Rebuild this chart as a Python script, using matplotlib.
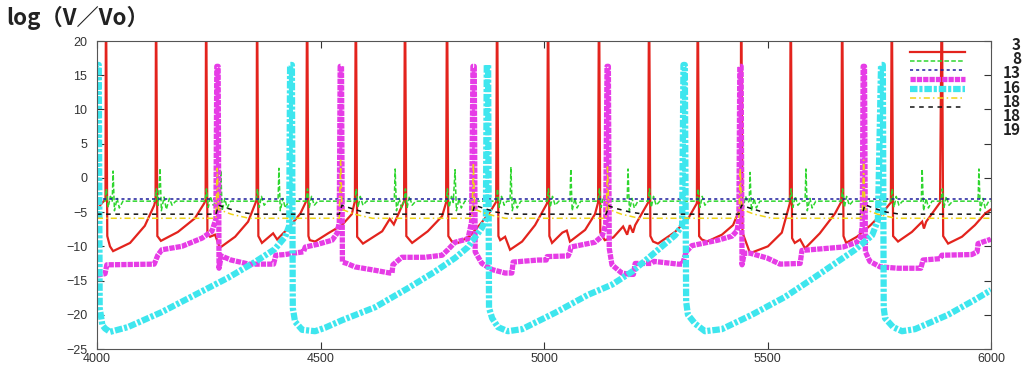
import numpy as np
import matplotlib
matplotlib.use("Agg")
import matplotlib.pyplot as plt
from matplotlib.lines import Line2D

plt.rcParams["font.family"] = ["Liberation Sans", "DejaVu Sans"]

# ---------------- data ----------------
# series "3" (red, solid) - spikes run off the top of the axes
t_3 = [4000, 4012, 4019, 4020, 4023, 4029, 4036, 4074, 4107, 4128,
       4131, 4132, 4135, 4143, 4181, 4219, 4240,
       4243, 4244, 4247, 4253, 4264, 4275, 4309, 4338, 4355,
       4357, 4358, 4361, 4369, 4394, 4403, 4430, 4455, 4468,
       4470, 4473, 4476, 4488, 4517, 4548, 4570, 4577,
       4579, 4582, 4595, 4638, 4655, 4664, 4687,
       4689, 4692, 4705, 4740, 4772, 4781,
       4783, 4786, 4794, 4808, 4834, 4857, 4879, 4893,
       4895, 4898, 4902, 4913, 4924, 4951, 4980, 5007,
       5009, 5012, 5018, 5041, 5051, 5058, 5092, 5114, 5121,
       5123, 5126, 5136, 5155, 5177, 5186, 5192, 5199, 5204, 5233,
       5235, 5238, 5244, 5255, 5293, 5322, 5342,
       5344, 5347, 5353, 5365, 5398, 5423, 5438, 5440,
       5441, 5444, 5461, 5501, 5532, 5550,
       5552, 5555, 5561, 5573, 5584, 5617, 5651, 5665,
       5667, 5670, 5676, 5700, 5729, 5752, 5776,
       5778, 5781, 5792, 5823, 5846, 5850, 5855, 5886,
       5890, 5893, 5904, 5935, 5964, 5987, 6000]
v_3 = [-4.6, -3.6, -3.2, 30, -8.5, -10.0, -10.7, -9.5, -7.0, -4.0,
       -3.2, 30, -8.5, -9.2, -7.9, -5.9, -3.7,
       -3.2, 30, -8.0, -8.6, -8.3, -10.2, -8.6, -6.4, -3.6,
       -3.2, 30, -8.5, -9.5, -8.1, -9.0, -7.2, -5.2, -3.4,
       30, -8.5, -9.1, -9.3, -8.1, -6.9, -5.3, -3.4,
       30, -8.6, -9.6, -7.8, -6.0, -6.8, -3.4,
       30, -8.5, -9.5, -7.8, -5.6, -3.6,
       30, -8.5, -9.3, -9.5, -8.5, -6.8, -5.0, -3.5,
       30, -8.5, -9.1, -8.6, -10.5, -9.3, -6.9, -3.7,
       30, -8.5, -9.5, -8.0, -7.7, -9.3, -7.6, -5.3, -3.6,
       30, -8.0, -9.1, -8.7, -7.1, -8.3, -6.9, -8.0, -6.9, -3.6,
       30, -8.5, -9.3, -9.6, -7.9, -6.0, -3.7,
       30, -8.5, -9.0, -9.3, -8.3, -6.9, -4.5, -3.5,
       30, -8.0, -11.0, -10.0, -8.0, -3.7,
       30, -8.8, -9.5, -9.0, -10.3, -8.1, -5.2, -3.5,
       30, -8.5, -9.5, -8.6, -7.0, -5.5, -3.6,
       30, -8.5, -9.3, -7.9, -6.4, -7.4, -6.4, -3.6,
       30, -8.5, -9.6, -8.6, -6.9, -5.2, -4.6]

# series "8" (green, dashed)
t_8 = [4000,
       4018, 4021, 4025, 4030, 4034, 4036, 4039, 4045, 4050, 4058,
       4130, 4133, 4137, 4141, 4144, 4150, 4155, 4162, 4168, 4176,
       4242, 4245, 4249, 4254, 4260, 4268, 4275, 4277, 4280, 4286, 4291, 4299,
       4356, 4359, 4363, 4368, 4374, 4382,
       4405, 4407, 4410, 4416, 4421, 4429,
       4468, 4471, 4475, 4480, 4486, 4494,
       4577, 4580, 4584, 4589, 4595, 4603,
       4665, 4667, 4670, 4676, 4681, 4687, 4690, 4694, 4699, 4705, 4713,
       4781, 4784, 4788, 4793, 4797, 4801, 4804, 4810, 4815, 4823,
       4893, 4896, 4900, 4905, 4911, 4917, 4924, 4926, 4929, 4935, 4940, 4948,
       5007, 5010, 5014, 5019, 5025, 5033,
       5058, 5060, 5063, 5069, 5074, 5082,
       5121, 5124, 5128, 5133, 5139, 5147,
       5186, 5188, 5191, 5197, 5202, 5210,
       5233, 5236, 5240, 5245, 5251, 5259,
       5342, 5345, 5349, 5354, 5360, 5368,
       5439, 5442, 5446, 5451, 5456, 5459, 5461, 5464, 5470, 5475, 5483,
       5550, 5553, 5557, 5562, 5568, 5576,
       5584, 5586, 5589, 5595, 5600, 5608,
       5665, 5668, 5672, 5677, 5683, 5691,
       5776, 5779, 5783, 5788, 5794, 5802,
       5844, 5846, 5849, 5855, 5860, 5868,
       5888, 5891, 5895, 5900, 5906, 5914,
       5971, 5973, 5976, 5982, 5987, 5995,
       6000]
v_8 = [-3.4,
       -3.4, -1.6, -4.3, -2.7, -3.4, 1.0, -4.8, -3.0, -4.4, -3.4,
       -3.4, -1.6, -4.0, 1.4, -4.8, -2.8, -4.6, -3.0, -4.0, -3.4,
       -3.4, -1.6, -4.3, -2.7, -4.0, -3.4, -3.4, 1.1, -4.8, -3.0, -4.4, -3.4,
       -3.4, -1.6, -4.3, -2.7, -4.0, -3.4,
       -3.4, 1.4, -4.8, -3.0, -4.4, -3.4,
       -3.4, -1.6, -4.3, -2.7, -4.0, -3.4,
       -3.4, -1.6, -4.3, -2.7, -4.0, -3.4,
       -3.4, 1.3, -4.8, -3.0, -4.4, -3.4, -1.6, -4.3, -2.7, -4.0, -3.4,
       -3.4, -1.6, -4.3, -2.7, -3.6, 1.2, -4.8, -3.0, -4.4, -3.4,
       -3.4, -1.6, -4.3, -2.7, -4.0, -3.4, -3.4, 1.6, -4.8, -3.0, -4.4, -3.4,
       -3.4, -1.6, -4.3, -2.7, -4.0, -3.4,
       -3.4, 1.3, -4.8, -3.0, -4.4, -3.4,
       -3.4, -1.6, -4.3, -2.7, -4.0, -3.4,
       -3.4, 1.3, -4.8, -3.0, -4.4, -3.4,
       -3.4, -1.6, -4.3, -2.7, -4.0, -3.4,
       -3.4, -1.6, -4.3, -2.7, -4.0, -3.4,
       -3.4, -1.6, -4.3, -2.7, -3.6, -3.4, 0.8, -4.8, -3.0, -4.4, -3.4,
       -3.4, -1.6, -4.3, -2.7, -4.0, -3.4,
       -3.4, 1.3, -4.8, -3.0, -4.4, -3.4,
       -3.4, -1.6, -4.3, -2.7, -4.0, -3.4,
       -3.4, -1.6, -4.3, -2.7, -4.0, -3.4,
       -3.4, 1.3, -4.8, -3.0, -4.4, -3.4,
       -3.4, -1.6, -4.3, -2.7, -4.0, -3.4,
       -3.4, 1.3, -4.8, -3.0, -4.4, -3.4,
       -3.4]

# series "13" (blue, dotted) - flat
t_13 = [4000, 6000]
v_13 = [-3.1, -3.1]

# series "16" (magenta, thick dotted)
t_16a = [4000, 4018, 4022, 4128, 4136, 4145, 4190, 4235, 4257, 4266,
         4268, 4271, 4273, 4278, 4300, 4340, 4395, 4400, 4420, 4462, 4466,
         4494, 4526, 4537, 4542,
         4544, 4547, 4549, 4559, 4577, 4622, 4655, 4660, 4662, 4682, 4734,
         4772, 4785, 4801, 4830, 4838,
         4841, 4844, 4846, 4861, 4884, 4913, 4928, 4931, 4987, 5005, 5007,
         5054, 5058, 5060, 5114, 5130, 5138,
         5141, 5144, 5146, 5152, 5174, 5192, 5200, 5204, 5240, 5246, 5300,
         5310, 5318, 5331, 5389, 5421, 5432, 5436,
         5438, 5441, 5443, 5448, 5461, 5499, 5528, 5573, 5577, 5669, 5700,
         5708, 5712,
         5714, 5717, 5719, 5729, 5752, 5792, 5843, 5848, 5886, 5890, 5957,
         5969, 5971, 5998, 6000]
v_16a = [-14.2, -14.0, -12.7, -12.6, -11.3, -10.5, -10.0, -8.8, -7.8, -6.0,
         16.3, 16.3, -13.2, -11.4, -12.0, -12.6, -12.6, -11.3, -11.2, -10.8, -10.1,
         -9.7, -9.1, -8.1, -6.5,
         16.3, 16.3, -12.3, -12.5, -13.0, -13.5, -13.9, -13.9, -12.7, -11.6, -11.6,
         -11.3, -10.5, -9.4, -8.9, -6.4,
         16.3, 16.3, -10.8, -12.5, -13.4, -13.9, -13.9, -12.3, -12.0, -12.0, -11.5,
         -11.4, -10.8, -10.1, -9.4, -8.5, -6.8,
         16.3, 16.3, -10.3, -12.7, -13.9, -14.1, -14.1, -12.5, -12.5, -12.2, -12.6,
         -12.6, -10.8, -9.9, -9.1, -8.5, -7.7, -6.0,
         16.3, 16.3, -12.7, -11.0, -11.0, -11.7, -12.6, -12.5, -10.6, -10.1, -9.4,
         -8.7, -7.0,
         16.3, 16.3, -10.8, -12.2, -13.0, -13.2, -13.2, -12.0, -11.8, -11.3, -11.2,
         -10.8, -9.6, -9.0, -8.9]

# series "16" (cyan, thick dash-dot)
t_16b = [4000, 4001, 4004, 4006, 4012, 4018, 4029, 4069, 4145, 4219, 4293,
         4353, 4398, 4421, 4430,
         4432, 4436, 4438, 4443, 4459, 4488, 4510, 4548, 4622, 4696, 4756,
         4801, 4830, 4861, 4870,
         4872, 4875, 4877, 4884, 4897, 4919, 4951, 5025, 5098, 5152, 5197,
         5248, 5293, 5309,
         5312, 5315, 5318, 5322, 5338, 5360, 5398, 5465, 5539, 5606, 5651,
         5696, 5734, 5747,
         5754, 5758, 5760, 5763, 5781, 5801, 5830, 5904, 5964, 6000]
v_16b = [-6.0, 16.5, 16.5, -19.0, -21.5, -22.0, -22.5, -21.8, -19.6, -17.1, -14.6,
         -12.3, -10.4, -8.6, -7.0,
         16.5, 16.5, -19.0, -21.0, -22.2, -22.4, -21.9, -20.8, -18.9, -16.1, -13.7,
         -11.7, -10.1, -7.3, -6.0,
         16.5, 16.5, -19.0, -20.5, -21.8, -22.4, -22.1, -19.7, -17.1, -15.6, -13.7,
         -10.9, -8.4, -7.0,
         16.5, 16.5, -18.1, -20.0, -21.3, -22.4, -22.1, -20.0, -17.4, -14.5, -12.5,
         -10.5, -8.4, -6.2,
         16.5, 16.5, -19.0, -20.5, -21.8, -22.4, -22.1, -20.0, -17.8, -16.4]

# series "18" (yellow, dash-dot)
t_18 = [4000,
        4266, 4269, 4272, 4300, 4340,
        4542, 4545, 4548, 4576, 4616,
        4839, 4842, 4845, 4873, 4913,
        5139, 5142, 5145, 5173, 5213,
        5436, 5439, 5442, 5470, 5510,
        5712, 5715, 5718, 5746, 5786,
        6000]
v_18 = [-5.9,
        -5.9, 1.4, -4.6, -5.3, -5.9,
        -5.9, 2.6, -4.6, -5.3, -5.9,
        -5.9, 2.2, -4.6, -5.3, -5.9,
        -5.9, 1.6, -4.6, -5.3, -5.9,
        -5.9, 1.4, -4.6, -5.3, -5.9,
        -5.9, 2.6, -4.6, -5.3, -5.9,
        -5.9]

# series "19" (black, dashed)
t_19 = [4000,
        4266, 4272, 4290, 4320, 4350,
        4542, 4548, 4566, 4596, 4626,
        4839, 4845, 4863, 4893, 4923,
        5139, 5145, 5163, 5193, 5223,
        5436, 5442, 5460, 5490, 5520,
        5712, 5718, 5736, 5766, 5796,
        6000]
v_19 = [-5.3,
        -5.3, -4.0, -4.4, -5.0, -5.3,
        -5.3, -4.0, -4.4, -5.0, -5.3,
        -5.3, -4.0, -4.4, -5.0, -5.3,
        -5.3, -4.1, -4.5, -5.0, -5.3,
        -5.3, -4.0, -4.4, -5.0, -5.3,
        -5.3, -3.9, -4.4, -5.0, -5.3,
        -5.3]

side_labels = ["3", "8", "13", "16", "18", "18", "19"]
x_ticks = [4000, 4500, 5000, 5500, 6000]
y_ticks = [20, 15, 10, 5, 0, -5, -10, -15, -20, -25]

# ---------------- styles ----------------
styles = [
    dict(color="#e3231d", lw=1.6, ls="-"),
    dict(color="#2fd62f", lw=1.1, ls=(0, (3, 1.5))),
    dict(color="#1c1c9c", lw=1.1, ls=(0, (2, 2))),
    dict(color="#e63ce6", lw=3.8, ls=(0, (1.0, 0.2))),
    dict(color="#3ee6ee", lw=4.5, ls=(0, (1.2, 0.3, 0.5, 0.3))),
    dict(color="#f0d414", lw=1.1, ls=(0, (4, 2, 1, 2))),
    dict(color="#111111", lw=1.1, ls=(0, (3, 3))),
]
series = [(t_3, v_3), (t_8, v_8), (t_13, v_13), (t_16a, v_16a),
          (t_16b, v_16b), (t_18, v_18), (t_19, v_19)]

fig = plt.figure(figsize=(10.27, 3.65), dpi=100)
ax = fig.add_axes([97 / 1027, 16 / 365, 894 / 1027, 308 / 365])

for (t, v), st in zip(series, styles):
    ax.plot(t, v, color=st["color"], linewidth=st["lw"], linestyle=st["ls"],
            solid_joinstyle="miter")

ax.set_xlim(4000, 6000)
ax.set_ylim(-25, 20)
ax.set_xticks(x_ticks)
ax.set_yticks(y_ticks)
ax.tick_params(direction="in", length=5, width=0.8, top=True, right=True,
               labelsize=9, colors="#333333")
ax.tick_params(axis="x", pad=3)
ax.tick_params(axis="y", pad=7)
for sp in ax.spines.values():
    sp.set_color("#555555")
    sp.set_linewidth(0.8)

handles = [Line2D([], [], color=st["color"], linewidth=st["lw"], linestyle=st["ls"])
           for st in styles]
ax.legend(handles, [""] * len(handles), loc="upper right",
          bbox_to_anchor=(0.975, 0.985), frameon=False, fontsize=5,
          handlelength=8, handletextpad=0, labelspacing=0.32, borderpad=0)

for i, lab in enumerate(side_labels):
    fig.text(1021 / 1027, 1 - (45 + i * 14.2) / 365, lab, ha="right", va="center",
             fontsize=11, fontweight="bold", color="#222222",
             family=["Noto Sans CJK JP", "DejaVu Sans"])

fig.text(6 / 1027, 1 - 18 / 365, "log（V／Vo）", ha="left", va="center",
         fontsize=16, fontweight="bold", color="#222222",
         family=["Noto Sans CJK JP", "DejaVu Sans"])

fig.savefig("out.png", dpi=100)
